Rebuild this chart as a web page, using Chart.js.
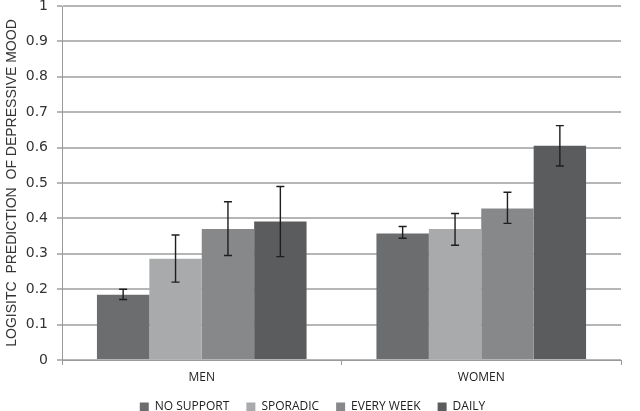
<!DOCTYPE html>
<html>
<head>
<meta charset="utf-8">
<script src="https://cdn.jsdelivr.net/npm/chart.js@4/dist/chart.umd.min.js"></script>
<style>
  html, body { margin: 0; padding: 0; background: #fff; }
  #wrap { width: 640px; height: 411px; }
</style>
</head>
<body>
<div id="wrap"><canvas id="moodChart" width="640" height="411"></canvas></div>
<script>
// -----------------------------
// Data
// -----------------------------
const groups = ["MEN", "WOMEN"];
const seriesNames = ["NO SUPPORT", "SPORADIC", "EVERY WEEK", "DAILY"];

const noSupport = [0.184, 0.357];
const sporadic  = [0.286, 0.370];
const everyWeek = [0.370, 0.428];
const daily     = [0.391, 0.605];

// error bar ends (low / high)
const noSupportLow  = [0.171, 0.344];
const noSupportHigh = [0.200, 0.377];
const sporadicLow   = [0.220, 0.324];
const sporadicHigh  = [0.353, 0.414];
const everyWeekLow  = [0.295, 0.386];
const everyWeekHigh = [0.447, 0.474];
const dailyLow      = [0.292, 0.548];
const dailyHigh     = [0.490, 0.662];

const yTicks = [0, 0.1, 0.2, 0.3, 0.4, 0.5, 0.6, 0.7, 0.8, 0.9, 1];

const colors = ["#6c6d6f", "#a9aaac", "#87888a", "#5b5c5e"];

// -----------------------------
// Error bar plugin
// -----------------------------
const errorBars = {
  id: "errorBars",
  afterDatasetsDraw(chart) {
    const ctx = chart.ctx;
    const y = chart.scales.y;
    ctx.save();
    ctx.strokeStyle = "#1e1e1e";
    ctx.lineWidth = 1.4;
    chart.data.datasets.forEach((ds, i) => {
      const meta = chart.getDatasetMeta(i);
      meta.data.forEach((bar, j) => {
        const top = y.getPixelForValue(ds.errHigh[j]);
        const bot = y.getPixelForValue(ds.errLow[j]);
        const x = bar.x;
        ctx.beginPath();
        ctx.moveTo(x, top); ctx.lineTo(x, bot);
        ctx.moveTo(x - 4, top); ctx.lineTo(x + 4, top);
        ctx.moveTo(x - 4, bot); ctx.lineTo(x + 4, bot);
        ctx.stroke();
      });
    });
    ctx.restore();
  }
};

const values = [noSupport, sporadic, everyWeek, daily];
const lows = [noSupportLow, sporadicLow, everyWeekLow, dailyLow];
const highs = [noSupportHigh, sporadicHigh, everyWeekHigh, dailyHigh];

const datasets = seriesNames.map((name, i) => ({
  label: name,
  data: values[i],
  errLow: lows[i],
  errHigh: highs[i],
  backgroundColor: colors[i],
  borderWidth: 0,
  categoryPercentage: 0.75,
  barPercentage: 1.0
}));

new Chart(document.getElementById("moodChart"), {
  type: "bar",
  data: { labels: groups, datasets },
  plugins: [errorBars],
  options: {
    responsive: false,
    animation: false,
    devicePixelRatio: 1,
    layout: { padding: { top: 6, right: 19, bottom: -12, left: 4 } },
    plugins: {
      tooltip: { enabled: false },
      legend: {
        position: "bottom",
        labels: {
          boxWidth: 9,
          boxHeight: 9,
          padding: 17,
          color: "#222",
          font: { family: "'Open Sans'", size: 12 }
        }
      }
    },
    scales: {
      x: {
        afterFit(axis) { axis.height = 24; },
        grid: {
          offset: true,
          drawOnChartArea: false,
          tickLength: 5,
          color: "#9a9a9a"
        },
        border: { color: "#9a9a9a", width: 1 },
        ticks: {
          color: "#222",
          padding: 5,
          font: { family: "'Open Sans'", size: 12 }
        }
      },
      y: {
        min: 0,
        max: 1,
        afterBuildTicks(axis) {
          axis.ticks = yTicks.map(v => ({ value: v }));
        },
        afterFit(axis) {
          axis.width = 58;
          axis.paddingTop = 0;
          axis.paddingBottom = 0;
        },
        grid: {
          color: "#b6b6b6",
          lineWidth: 2,
          tickLength: 5,
          drawTicks: true
        },
        border: { color: "#9a9a9a", width: 1 },
        ticks: {
          color: "#333",
          padding: 9,
          font: { family: "'DejaVu Sans'", size: 14 },
          callback: v => String(v)
        },
        title: {
          display: true,
          text: "LOGISITC  PREDICTION  OF DEPRESSIVE MOOD",
          color: "#333",
          padding: { top: 0, bottom: 0 },
          font: { family: "'Liberation Sans'", size: 14 }
        }
      }
    }
  }
});
</script>
</body>
</html>
